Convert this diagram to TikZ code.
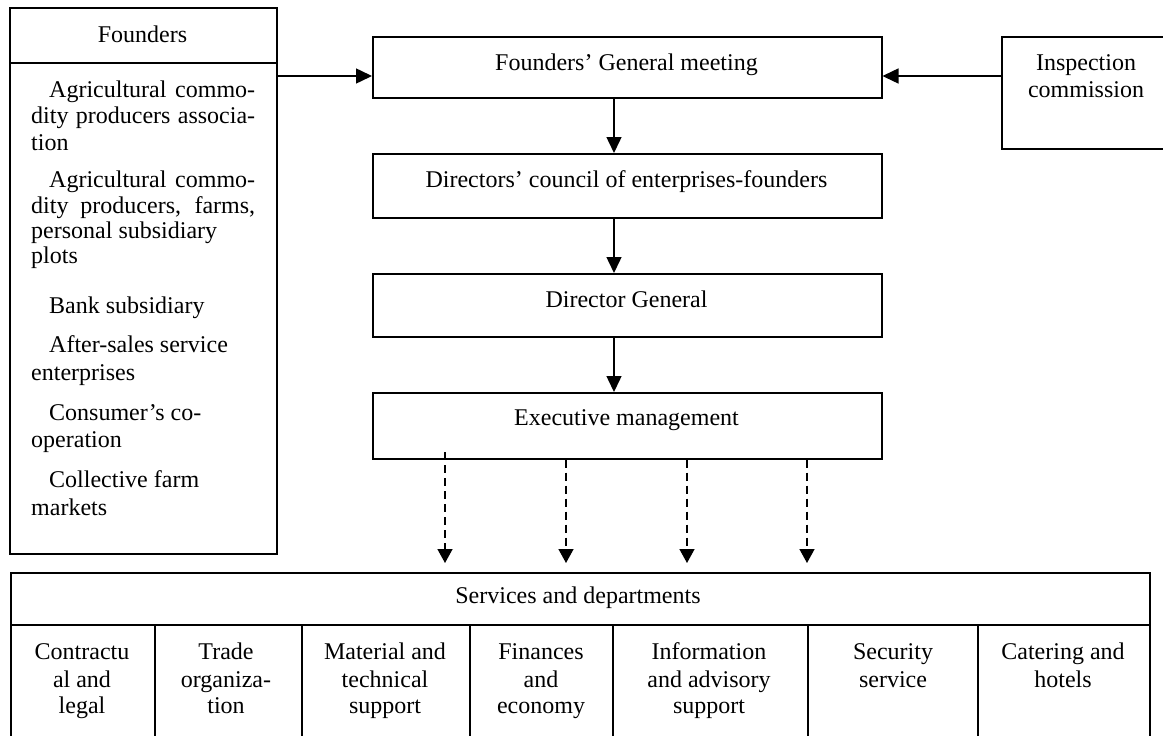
\documentclass[tikz,border=0pt]{standalone}
\usepackage{fontspec}
\setmainfont{Liberation Serif}
\usetikzlibrary{arrows.meta}
\tikzset{
  box/.style={draw, line width=1.5pt, inner sep=0pt, anchor=north west},
  txt/.style={font=\fontsize{24}{27}\selectfont, inner sep=0pt, anchor=base},
  ltxt/.style={font=\fontsize{24}{27}\selectfont, inner sep=0pt, anchor=base west},
  rule/.style={line width=1.5pt},
  arr/.style={line width=1.5pt, -{Triangle[length=16pt,width=15pt]}},
  darr/.style={line width=1.5pt, dash pattern=on 8pt off 5pt, -{Triangle[length=14pt,width=15pt]}},
}
\begin{document}
\begin{tikzpicture}[x=1pt,y=-1pt]
\useasboundingbox (0,0) rectangle (1163,736);
\clip (0,0) rectangle (1163,736);

% boxes
\node[box, minimum width=267pt, minimum height=546pt] (fnd) at (9,7) {};
\node[box, minimum width=509pt, minimum height=61pt] (gm) at (372,36) {};
\node[box, minimum width=509pt, minimum height=64pt] (dc) at (372,153) {};
\node[box, minimum width=509pt, minimum height=63pt] (dg) at (372,273) {};
\node[box, minimum width=509pt, minimum height=66pt] (em) at (372,392) {};
\node[box, minimum width=171pt, minimum height=112pt] (ic) at (1001,36) {};
\node[box, minimum width=1139pt, minimum height=188pt] (sd) at (10,572) {};

% helper coordinates
\coordinate (fh) at (0,63);
\coordinate (sh) at (0,625);
\coordinate (ya) at (0,76);
\coordinate (vx) at (614,0);
\coordinate (d1) at (445,452);
\coordinate (d2) at (566,0);
\coordinate (d3) at (687,0);
\coordinate (d4) at (807,0);

% inner rules
\draw[rule] (fnd.west |- fh) -- (fnd.east |- fh);
\draw[rule] (sd.west |- sh) -- (sd.east |- sh);
\foreach \cx in {155,302,470,613,808,978}{
  \draw[rule] (\cx,625) -- (\cx,760);
}

% connectors
\draw[arr] (fnd.east |- ya) -- (gm.west |- ya);
\draw[arr] (ic.west |- ya) -- (gm.east |- ya);
\draw[arr] (gm.south -| vx) -- (dc.north -| vx);
\draw[arr] (dc.south -| vx) -- (dg.north -| vx);
\draw[arr] (dg.south -| vx) -- (em.north -| vx);
\draw[darr, shorten >=9pt] (d1) -- (d1 |- sd.north);
\draw[darr, shorten >=9pt] (em.south -| d2) -- (sd.north -| d2);
\draw[darr, shorten >=9pt] (em.south -| d3) -- (sd.north -| d3);
\draw[darr, shorten >=9pt] (em.south -| d4) -- (sd.north -| d4);

% texts of the chain
\node[txt] (tfnd) at (142.5,42) {Founders};
\node[txt] (tgm) at (626.5,70) {Founders’ General meeting};
\node[txt] (tdc) at (626.5,187) {Directors’ council of enterprises-founders};
\node[txt] (tdg) at (626.5,307) {Director General};
\node[txt] (tem) at (626.5,425) {Executive management};
\node[txt] (tic1) at (1086,70) {Inspection};
\node[txt] (tic2) at (1086,97) {commission};
\node[txt] (tsd) at (578,603) {Services and departments};

% founders list
\node[ltxt] at (49,97) {\makebox[206pt][s]{Agricultural commo-}};
\node[ltxt] at (31,123) {\makebox[224pt][s]{dity producers associa-}};
\node[ltxt] at (31,150) {tion};
\node[ltxt] at (49,187) {\makebox[206pt][s]{Agricultural commo-}};
\node[ltxt] at (31,213) {\makebox[224pt][s]{dity producers, farms,}};
\node[ltxt] at (31,238) {personal subsidiary};
\node[ltxt] at (31,263) {plots};
\node[ltxt] at (49,313) {Bank subsidiary};
\node[ltxt] at (49,352) {After-sales service};
\node[ltxt] at (31,380) {enterprises};
\node[ltxt] at (49,420) {Consumer’s co-};
\node[ltxt] at (31,447) {operation};
\node[ltxt] at (49,487) {Collective farm};
\node[ltxt] at (31,515) {markets};

% department columns
\foreach \cx/\a/\b/\c in {82/Contractu/al and/legal,
                          226/Trade/organiza-/tion,
                          385/Material and/technical/support,
                          541/Finances/and/economy,
                          709/Information/and advisory/support,
                          893/Security/service/,
                          1063/Catering and/hotels/}{
  \node[txt] at (\cx,659) {\a};
  \node[txt] at (\cx,687) {\b};
  \node[txt] at (\cx,713) {\c};
}
\end{tikzpicture}
\end{document}
